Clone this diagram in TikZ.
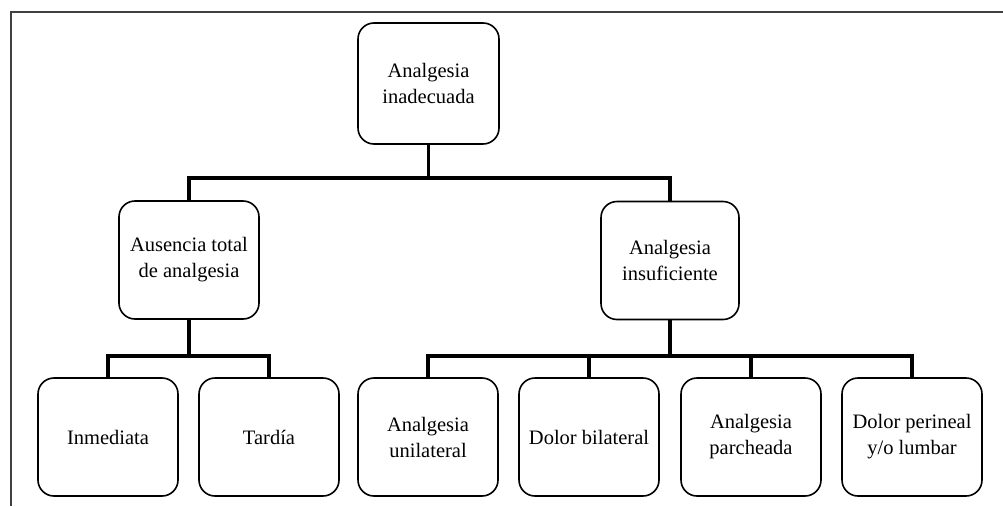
\documentclass[tikz,border=0pt]{standalone}
\usepackage{fontspec}
\setmainfont{Liberation Serif}
\begin{document}
\begin{tikzpicture}[x=1pt,y=1pt,
  box/.style={draw=black, line width=1.6pt, rounded corners=16pt, minimum width=140pt, minimum height=118pt, align=center, font=\fontsize{20.5}{26}\selectfont, inner sep=2pt},
  conn/.style={draw=black, line width=3.8pt},
  frame/.style={draw=black!75, line width=2pt}]
\useasboundingbox (0,0) rectangle (1003,-506);
\draw[frame] (10.5,-506) -- (10.5,-11.5) -- (1003,-11.5);
\node[box, minimum width=141pt, minimum height=121pt] (top) at (428.5,-83.5) {Analgesia\\inadecuada};
\node[box] (aus) at (189,-260) {Ausencia total\\de analgesia};
\node[box, minimum width=138pt] (ins) at (670,-260.5) {Analgesia\\insuficiente};
\node[box] (inm) at (108,-437) {Inmediata};
\node[box] (tar) at (269,-437) {Tardía};
\node[box] (uni) at (428,-437) {Analgesia\\unilateral};
\node[box] (bil) at (589,-437) {Dolor bilateral};
\node[box] (par) at (751,-437) {Analgesia\\parcheada};
\node[box] (per) at (912,-437) {Dolor perineal\\y/o lumbar};
\coordinate (b1) at (0,-178);
\coordinate (b2) at (0,-356);
\draw[conn] (top.south) -- (top.south |- b1);
\draw[conn] (aus.north) -- (aus.north |- b1) -| (ins.north);
\draw[conn] (aus.south) -- (aus.south |- b2);
\draw[conn] (inm.north) -- (inm.north |- b2) -| (tar.north);
\draw[conn] (ins.south) -- (ins.south |- b2);
\draw[conn] (uni.north) -- (uni.north |- b2) -| (per.north);
\draw[conn] (bil.north) -- (bil.north |- b2);
\draw[conn] (par.north) -- (par.north |- b2);
\end{tikzpicture}
\end{document}
